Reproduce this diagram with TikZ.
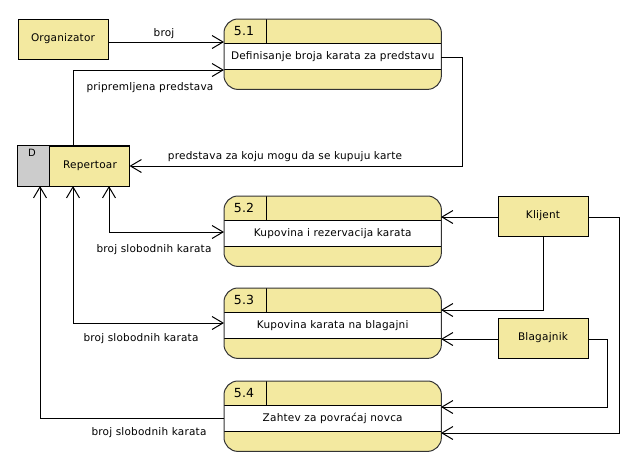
\documentclass[tikz,border=0pt]{standalone}
\usepackage{fontspec}
\setmainfont{DejaVu Sans}[LetterSpace=2]
\usetikzlibrary{arrows.meta,calc}
\definecolor{dfdyellow}{HTML}{F3E9A0}
\definecolor{dfdgray}{HTML}{CCCCCC}
\definecolor{dfdborder}{HTML}{333333}
\tikzset{
  ent/.style={draw=black, line width=1pt, fill=dfdyellow, minimum width=90pt, minimum height=40pt, inner sep=0pt, font=\fontsize{10.5}{12}\selectfont},
  procbox/.style={fill=dfdyellow, rounded corners=14pt, minimum width=217pt, minimum height=70pt, inner sep=0pt},
  lbl/.style={font=\fontsize{10.5}{12}\selectfont, inner sep=0pt},
  numlbl/.style={font=\fontsize{12.5}{14}\selectfont, inner sep=0pt},
  flow/.style={line width=1pt, -{Straight Barb[length=11pt,width=13pt,line width=1pt]}},
  bflow/.style={line width=1pt, {Straight Barb[length=11pt,width=13pt,line width=1pt]}-{Straight Barb[length=11pt,width=13pt,line width=1pt]}},
}
\newcommand\dfdproc[4]{%
  \node[procbox, anchor=north west] (#1) at (224,#2) {};
  \fill[white] ([yshift=-24pt]#1.north west) rectangle ([yshift=-50pt]#1.north east);
  \draw[line width=1pt] ([yshift=-24pt]#1.north west) -- ([yshift=-24pt]#1.north east);
  \draw[line width=1pt] ([yshift=-50pt]#1.north west) -- ([yshift=-50pt]#1.north east);
  \draw[line width=1pt] ([xshift=42pt]#1.north west) -- ([xshift=42pt,yshift=-24pt]#1.north west);
  \node[numlbl] (#1num) at ([xshift=20pt,yshift=-12pt]#1.north west) {#3};
  \node[lbl] (#1txt) at ([yshift=-37.5pt]#1.north) {#4};
  \draw[draw=dfdborder, line width=1pt, rounded corners=14pt] (#1.north west) rectangle (#1.south east);
}
\begin{document}
\begin{tikzpicture}[x=1pt,y=-1pt]
\useasboundingbox (0,0) rectangle (637,464);

% entities
\node[ent] (org) at (63,39) {Organizator};
\node[ent] (kli) at (543,216) {Klijent};
\node[ent] (bla) at (543,338) {Blagajnik};

% data store
\node[draw=black, line width=1pt, fill=dfdyellow, minimum width=111pt, minimum height=40pt, inner sep=0pt] (rep) at (73.5,166) {};
\fill[dfdgray] (rep.north west) rectangle ([xshift=32pt]rep.south west);
\draw[line width=1pt] (rep.north west) rectangle (rep.south east);
\draw[line width=1pt] ([xshift=32pt]rep.north west) -- ([xshift=32pt]rep.south west);
\node[lbl, font=\fontsize{10}{12}\selectfont] (repD) at (32,153) {D};
\node[lbl] (repname) at (90,166) {Repertoar};

% processes
\dfdproc{p1}{19}{5.1}{Definisanje broja karata za predstavu}
\dfdproc{p2}{196}{5.2}{Kupovina i rezervacija karata}
\dfdproc{p3}{288}{5.3}{Kupovina karata na blagajni}
\dfdproc{p4}{381}{5.4}{Zahtev za povraćaj novca}

% ports
\coordinate (p1in1) at (224,42);
\coordinate (p1in2) at (224,70);
\coordinate (p1out) at (441,57);
\coordinate (p2l) at (224,232);
\coordinate (p2r) at (441,217);
\coordinate (p3l) at (224,323);
\coordinate (p3r1) at (441,310);
\coordinate (p3r2) at (441,339);
\coordinate (p4l) at (224,418);
\coordinate (p4r1) at (441,407);
\coordinate (p4r2) at (441,433);
\coordinate (repb1) at (40,186);
\coordinate (repb2) at (73,186);
\coordinate (repb3) at (109,186);
\coordinate (rept) at (73,146);

% flows
\draw[flow] (org.east |- p1in1) -- (p1in1);
\node[lbl] (l1) at (164,34) {broj};

\draw[flow] (rept) |- (p1in2);
\node[lbl] (l2) at (150,88) {pripremljena predstava};

\draw[flow] (p1out) -| (462,166) -- (rep.east);
\node[lbl] (l3) at (285,157) {predstava za koju mogu da se kupuju karte};

\draw[bflow] (repb3) |- (p2l);
\node[lbl] (l4) at (154,250) {broj slobodnih karata};

\draw[bflow] (repb2) |- (p3l);
\node[lbl] (l5) at (141,339) {broj slobodnih karata};

\draw[flow] (p4l) -| (repb1);
\node[lbl] (l6) at (149,433) {broj slobodnih karata};

\draw[flow] (kli.west |- p2r) -- (p2r);
\draw[flow] (kli.south) |- (p3r1);
\draw[flow] (kli.east |- p2r) -| (619,433) -- (p4r2);
\draw[flow] (bla.west |- p3r2) -- (p3r2);
\draw[flow] (bla.east |- p3r2) -| (607,407) -- (p4r1);
\end{tikzpicture}
\end{document}
